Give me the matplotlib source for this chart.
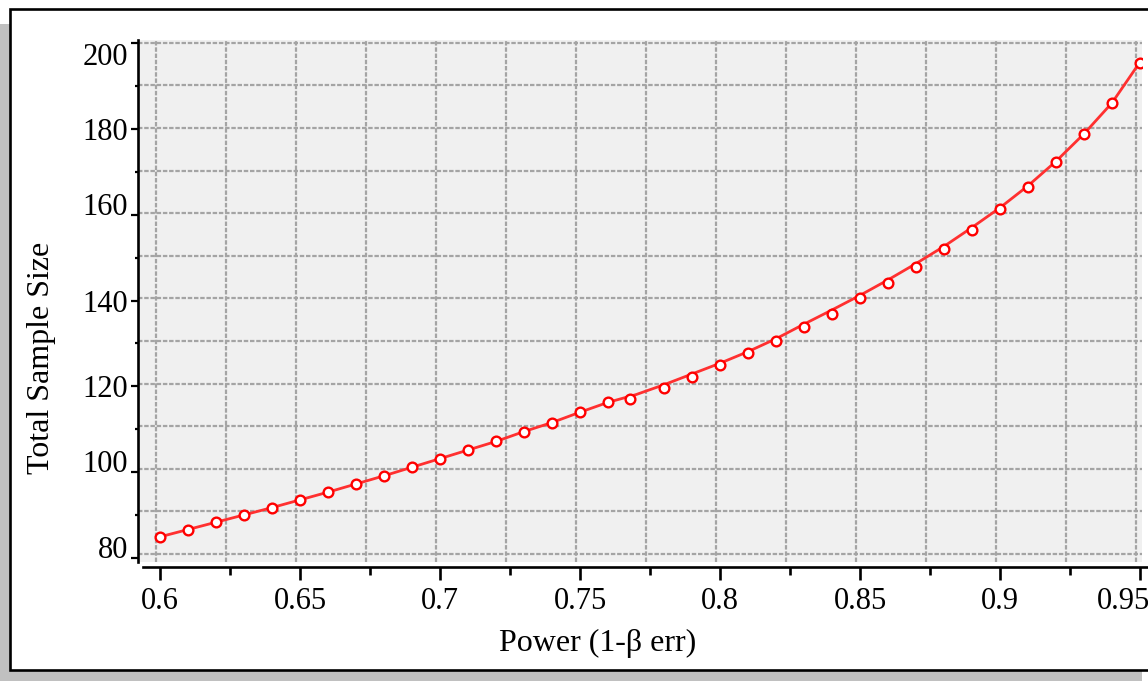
import numpy as np
import matplotlib
matplotlib.use("Agg")
import matplotlib.pyplot as plt
from matplotlib.patches import Rectangle
from matplotlib.ticker import FixedLocator, MultipleLocator
from matplotlib.transforms import ScaledTranslation

# power values (x) and total sample size (y)
power = [0.60, 0.61, 0.62, 0.63, 0.64, 0.65, 0.66, 0.67, 0.68, 0.69,
         0.70, 0.71, 0.72, 0.73, 0.74, 0.75, 0.76, 0.77, 0.78, 0.79,
         0.80, 0.81, 0.82, 0.83, 0.84, 0.85, 0.86, 0.87, 0.88, 0.89,
         0.90, 0.91, 0.92, 0.93, 0.94, 0.95]
curve_n = [85.0, 86.7, 88.4, 90.1, 91.8, 93.6, 95.4, 97.3, 99.2, 101.2,
           103.2, 105.2, 107.2, 109.5, 111.6, 114.0, 116.3, 118.1, 120.4, 122.9,
           125.4, 128.1, 131.1, 134.5, 137.8, 141.2, 144.8, 148.6, 152.6, 157.0,
           161.6, 166.7, 172.4, 178.8, 186.0, 195.5]
marker_power = [0.60, 0.61, 0.62, 0.63, 0.64, 0.65, 0.66, 0.67, 0.68, 0.69,
                0.70, 0.71, 0.72, 0.73, 0.74, 0.75, 0.76, 0.768, 0.78, 0.79,
                0.80, 0.81, 0.82, 0.83, 0.84, 0.85, 0.86, 0.87, 0.88, 0.89,
                0.90, 0.91, 0.92, 0.93, 0.94, 0.95]
marker_n = [85.0, 86.7, 88.4, 90.1, 91.8, 93.6, 95.4, 97.3, 99.2, 101.2,
            103.2, 105.2, 107.2, 109.5, 111.6, 114.0, 116.3, 117.1, 119.6, 122.1,
            125.0, 127.7, 130.6, 133.8, 136.9, 140.5, 144.0, 147.9, 152.0, 156.4,
            161.2, 166.5, 172.3, 178.7, 185.9, 195.2]

x_ticks = [0.6, 0.65, 0.7, 0.75, 0.8, 0.85, 0.9, 0.95]
x_ticklabels = ['0.6', '0.65', '0.7', '0.75', '0.8', '0.85', '0.9', '0.95']
y_ticks = [80, 100, 120, 140, 160, 180, 200]
y_ticklabels = ['80', '100', '120', '140', '160', '180', '200']

plt.rcParams['font.family'] = ['Liberation Serif', 'DejaVu Serif']

W, H = 1148, 681
fig = plt.figure(figsize=(W / 100, H / 100), dpi=100, facecolor='white')

# window background + white panel with black frame
fig.add_artist(Rectangle((0, 0), 1142 / W, (H - 24) / H, transform=fig.transFigure,
                         facecolor='#c0c0c0', edgecolor='none', zorder=-10))
fig.add_artist(Rectangle((10 / W, 1 - 669.5 / H), 1.1, (669.5 - 9.3) / H,
                         transform=fig.transFigure, facecolor='white',
                         edgecolor='black', linewidth=1.9, zorder=-9, clip_on=False))

rect = [138 / W, 1 - 562 / H, 1004 / W, 522 / H]

# grid lives on its own axes, it is drawn a few pixels off the tick marks
bg = fig.add_axes(rect, facecolor='#f0f0f0')
bg.set_xlim(0.59375, 0.95232)
bg.set_ylim(78.12, 200.63)
bg.xaxis.set_major_locator(MultipleLocator(0.025))
bg.yaxis.set_major_locator(MultipleLocator(10))
bg.grid(True, color='#a4a4a4', linestyle=(0, (2, 0.8)), linewidth=1.6)
bg.tick_params(length=0, labelbottom=False, labelleft=False)
for s in bg.spines.values():
    s.set_visible(False)

ax = fig.add_axes(rect, facecolor='none')
ax.set_xlim(0.59214, 0.95071)
ax.set_ylim(79.14, 200.63)

ax.plot(power, curve_n, color='#ff3030', linewidth=2.0, zorder=3)
ax.plot(marker_power, marker_n, 'o', markersize=7, markerfacecolor='white',
        markeredgecolor='#ff0000', markeredgewidth=1.7, zorder=4)

ax.spines['top'].set_visible(False)
ax.spines['right'].set_visible(False)
ax.spines['left'].set_linewidth(1.9)
ax.spines['bottom'].set_linewidth(1.9)
ax.spines['bottom'].set_position(('outward', 3.6))
ax.spines['bottom'].set_bounds(0.59393, 0.95286)

ax.xaxis.set_major_locator(FixedLocator(x_ticks))
ax.set_xticklabels(x_ticklabels)
ax.xaxis.set_minor_locator(MultipleLocator(0.025))
ax.yaxis.set_major_locator(FixedLocator(y_ticks))
ax.set_yticklabels(y_ticklabels)
ax.yaxis.set_minor_locator(MultipleLocator(10))

ax.tick_params(axis='x', which='major', length=9.5, width=1.9, pad=5, labelsize=22)
ax.tick_params(axis='x', which='minor', length=6, width=1.9)
ax.tick_params(axis='y', which='major', length=5, width=1.6, pad=2, labelsize=22)
ax.tick_params(axis='y', which='minor', length=2.5, width=1.6)

# java style label placement on the y axis
valign = {'200': 'top', '160': 'baseline', '100': 'baseline', '80': 'baseline'}
for t in ax.yaxis.get_major_ticks():
    lab = t.label1.get_text()
    if lab in valign:
        t.label1.set_verticalalignment(valign[lab])

# last x label is pushed back inside the frame
last = ax.xaxis.get_major_ticks()[-1].label1
last.set_transform(last.get_transform() + ScaledTranslation(-17 / 100, 0, fig.dpi_scale_trans))

fig.text(598 / W, 1 - 643 / H, 'Power (1-\u03b2 err)', ha='center', va='center', fontsize=23)
fig.text(42 / W, 1 - 358 / H, 'Total Sample Size', ha='center', va='center',
         rotation=90, fontsize=23)

fig.savefig('out.png', dpi=100, facecolor='white')
